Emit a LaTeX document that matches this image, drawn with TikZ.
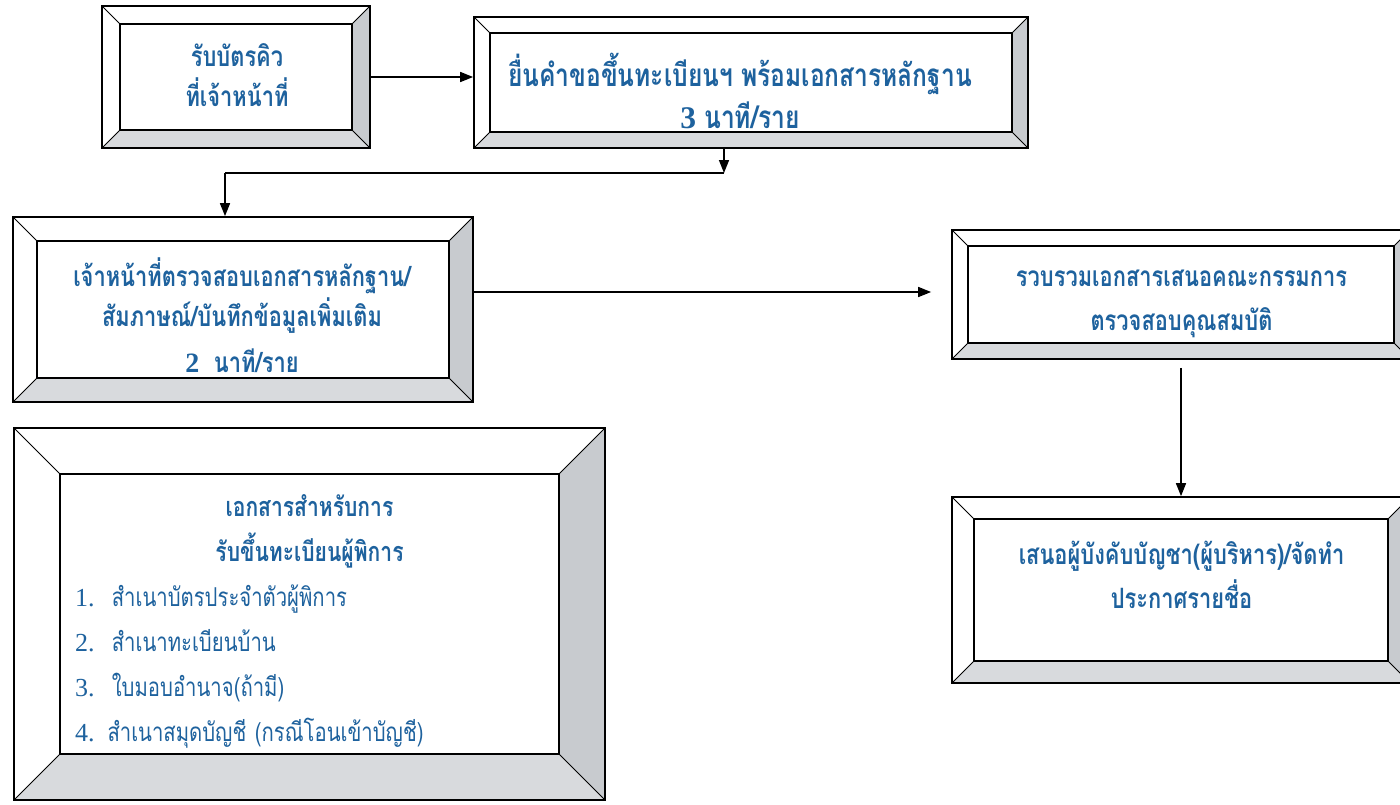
\documentclass[tikz,border=0pt]{standalone}
\usepackage{fontspec}
\newfontfamily\thai[Script=Thai,FakeStretch=0.78]{Loma}
\newfontfamily\digits{Liberation Serif}
\usetikzlibrary{arrows.meta}
\definecolor{inkblue}{RGB}{30,98,158}
\definecolor{rimright}{RGB}{200,203,207}
\definecolor{rimbottom}{RGB}{216,218,221}
\begin{document}
\begin{tikzpicture}[x=1pt,y=-1pt]
		\tikzset{
			bev/.store in=\bev, bev=16,
			panel/.style = {draw, line width=1.7pt, fill=white, inner sep=0pt,
				path picture={
					\coordinate (NW) at (path picture bounding box.north west);
					\coordinate (NE) at (path picture bounding box.north east);
					\coordinate (SW) at (path picture bounding box.south west);
					\coordinate (SE) at (path picture bounding box.south east);
					\coordinate (nw) at ([shift={(\bev pt,-\bev pt)}]NW);
					\coordinate (ne) at ([shift={(-\bev pt,-\bev pt)}]NE);
					\coordinate (sw) at ([shift={(\bev pt,\bev pt)}]SW);
					\coordinate (se) at ([shift={(-\bev pt,\bev pt)}]SE);
					\fill[rimright] (ne) -- (NE) -- (SE) -- (se) -- cycle;
					\fill[rimbottom] (sw) -- (se) -- (SE) -- (SW) -- cycle;
					\draw[line width=1.6pt] (nw) rectangle (se);
					\draw[line width=1pt] (NW) -- (nw) (NE) -- (ne) (SW) -- (sw) (SE) -- (se);
				}},
			bigtext/.style = {text=inkblue, align=center, font=\thai\bfseries\fontsize{31.5}{42}\selectfont},
			boxtext/.style = {text=inkblue, align=center, font=\thai\bfseries\fontsize{28}{44}\selectfont},
			flow/.style = {line width=1.5pt, -{Triangle[length=13pt,width=10pt]}}
		}
		\useasboundingbox (0,0) rectangle (1400,804);

		\node[panel, bev=18, minimum width=268pt, minimum height=142pt] (ticket) at (236,77) {};
		\node[panel, bev=16, minimum width=554pt, minimum height=131pt] (submit) at (751,82.5) {};
		\node[panel, bev=24, minimum width=460pt, minimum height=185pt] (check) at (243,309.5) {};
		\node[panel, bev=16, minimum width=458pt, minimum height=129pt] (collect) at (1181,294.5) {};
		\node[panel, bev=22, minimum width=458pt, minimum height=186pt] (announce) at (1181,590) {};
		\node[panel, bev=46, minimum width=591pt, minimum height=372pt] (docs) at (309.5,614) {};

		\node[boxtext] (ticket text) at (237,74.6) {รับบัตรคิว\\[-4pt]ที่เจ้าหน้าที่};
		\node[bigtext] (submit text) at (740,90.6) {ยื่นคำขอขึ้นทะเบียนฯ พร้อมเอกสารหลักฐาน\\{\digits\bfseries 3} นาที/ราย};
		\node[boxtext] (check text) at (242,315) {เจ้าหน้าที่ตรวจสอบเอกสารหลักฐาน/\\[-4pt]สัมภาษณ์/บันทึกข้อมูลเพิ่มเติม\\[2pt]{\digits\bfseries 2}\ \ นาที/ราย};
		\node[boxtext] (collect text) at (1181.5,304.3) {รวบรวมเอกสารเสนอคณะกรรมการ\\ตรวจสอบคุณสมบัติ};
		\node[boxtext] (announce text) at (1181.5,575) {เสนอผู้บังคับบัญชา(ผู้บริหาร)/จัดทำ\\ประกาศรายชื่อ};
		\node[text=inkblue, text width=469pt, align=left, font=\thai\fontsize{26}{45}\selectfont] (docs text) at (309.5,621.5)
			{{\centering\bfseries\fontsize{27}{45}\selectfont เอกสารสำหรับการ\\รับขึ้นทะเบียนผู้พิการ\par}
			\noindent{\digits 1.}\ \ สำเนาบัตรประจำตัวผู้พิการ\\
			{\digits 2.}\ \ สำเนาทะเบียนบ้าน\\
			{\digits 3.}\ \ ใบมอบอำนาจ(ถ้ามี)\\
			{\digits 4.} สำเนาสมุดบัญชี (กรณีโอนเข้าบัญชี)};

		\coordinate (bend) at (724,173);
		\coordinate (turn) at (225,173);

		\draw[flow] (ticket.east) -- (ticket.east -| submit.west);
		\draw[flow] (submit.south -| bend) -- (bend);
		\draw[line width=1.5pt] (bend) -- (turn);
		\draw[flow] (turn) -- (turn |- check.north);
		\draw[flow, shorten >=20pt] ([yshift=17.5pt]check.east) -- ([yshift=17.5pt]check.east -| collect.west);
		\draw[flow, shorten <=8pt] (collect.south) -- (announce.north);

\end{tikzpicture}
\end{document}
